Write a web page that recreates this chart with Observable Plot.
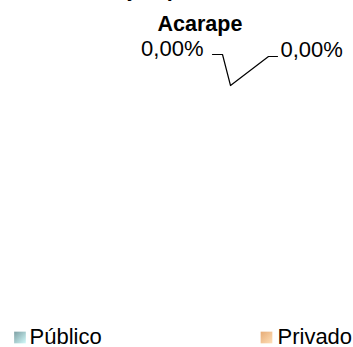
<!DOCTYPE html>
<html>
<head>
<meta charset="utf-8">
<script src="https://cdn.jsdelivr.net/npm/d3@7"></script>
<script src="https://cdn.jsdelivr.net/npm/@observablehq/plot@0.6"></script>
<style>
  html, body { margin: 0; padding: 0; background: #fff; }
  svg { display: block; }
</style>
</head>
<body>
<div id="chart"></div>
<script>
// ---- data ----
const titleLines = ["Distribuição por Natureza Jurídica", "Acarape"];
const categories = ["Público", "Privado"];
const values = [0, 0];
const labelTexts = ["0,00%", "0,00%"];
const gradStops = [["#7d9fa3", "#d2fafa"], ["#e6ab76", "#ffe0b8"]];

// ---- layout (pixels) ----
const W = 353, H = 347;
const pie = {cx: 230, cy: 190, r: 105};
const font = "Liberation Sans, Arial, sans-serif";
const FS = 22, TFS = 21.5;
const base = fs => -0.71 * fs; // lineAnchor "top" offset to put baseline at y

const arcs = d3.pie().sort(null)(values);
// anchor point on the pie edge at each slice's mid-angle
const anchors = arcs.map(a => {
  const m = (a.startAngle + a.endAngle) / 2;
  return {x: pie.cx + pie.r * Math.sin(m), y: pie.cy - pie.r * Math.cos(m)};
});
// label placements (Excel best-fit style)
const labelPos = [
  {x: 203, y: 55, anchor: "end", end: {x: 212, y: 54}, elbow: {x: 222, y: 54}},
  {x: 280, y: 56, anchor: "start", end: {x: 277, y: 56}, elbow: {x: 268, y: 56}}
];
const leaderData = [];
labelPos.forEach((p, i) => {
  leaderData.push({k: i, x: p.end.x, y: p.end.y});
  leaderData.push({k: i, x: p.elbow.x, y: p.elbow.y});
  leaderData.push({k: i, x: anchors[i].x, y: anchors[i].y});
});
const labels = labelPos.map((p, i) => ({x: p.x, y: p.y + base(FS), text: labelTexts[i], anchor: p.anchor}));

const titleData = [
  {x: 36, y: -4.5 + base(TFS), text: titleLines[0]},
  {x: 157, y: 30 + base(TFS), text: titleLines[1]}
];

const legendData = categories.map((c, i) => ({
  sx: [19.5, 266][i], tx: [29, 277][i], sy: 337, ty: 343.5 + base(FS), name: c, fill: `url(#lg${i})`
}));

const chart = Plot.plot({
  width: W, height: H,
  margin: 0,
  x: {domain: [0, W], range: [0, W], axis: null},
  y: {domain: [0, H], range: [0, H], axis: null},
  style: {fontFamily: font, background: "#fff"},
  marks: [
    Plot.text(titleData, {x: "x", y: "y", text: "text", textAnchor: "start",
      lineAnchor: "top", fontSize: TFS, fontWeight: "bold", fill: "#000"}),
    Plot.line(leaderData, {x: "x", y: "y", z: "k", stroke: "#000", strokeWidth: 1.2}),
    Plot.text(labels.filter(d => d.anchor === "end"), {x: "x", y: "y", text: "text", textAnchor: "end",
      lineAnchor: "top", fontSize: FS, fill: "#000"}),
    Plot.text(labels.filter(d => d.anchor === "start"), {x: "x", y: "y", text: "text", textAnchor: "start",
      lineAnchor: "top", fontSize: FS, fill: "#000"}),
    ...legendData.map(d => Plot.dot([d], {x: "sx", y: "sy", symbol: "square", r: 6.6, fill: d.fill, stroke: "none"})),
    Plot.text(legendData, {x: "tx", y: "ty", text: "name", textAnchor: "start",
      lineAnchor: "top", fontSize: FS, fill: "#000"})
  ]
});
// gradient definitions for the legend swatches
const svg = d3.select(chart);
const defs = svg.insert("defs", ":first-child");
gradStops.forEach((s, i) => {
  const g = defs.append("linearGradient").attr("id", `lg${i}`)
    .attr("x1", "0").attr("y1", "0").attr("x2", "1").attr("y2", "1");
  g.append("stop").attr("offset", "0").attr("stop-color", s[0]);
  g.append("stop").attr("offset", "1").attr("stop-color", s[1]);
});
document.getElementById("chart").append(chart);
</script>
</body>
</html>
